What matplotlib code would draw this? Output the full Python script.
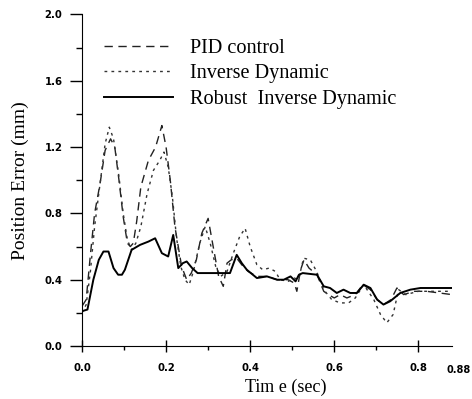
import matplotlib
matplotlib.use("Agg")
import matplotlib.pyplot as plt
from matplotlib.ticker import MultipleLocator, FixedLocator

# --- data ---
t_robust = [0.000, 0.013, 0.027, 0.040, 0.051, 0.063, 0.075, 0.086, 0.095, 0.102,
            0.118, 0.138, 0.158, 0.174, 0.190, 0.205, 0.217, 0.229, 0.240, 0.249,
            0.262, 0.275, 0.297, 0.320, 0.352, 0.368, 0.380, 0.392, 0.416, 0.440,
            0.464, 0.480, 0.496, 0.508, 0.516, 0.525, 0.559, 0.575, 0.590, 0.606,
            0.622, 0.638, 0.654, 0.670, 0.686, 0.702, 0.717, 0.733, 0.757, 0.781,
            0.805, 0.840, 0.880]
e_robust = [0.21, 0.22, 0.40, 0.52, 0.57, 0.57, 0.47, 0.43, 0.43, 0.46,
            0.58, 0.61, 0.63, 0.65, 0.56, 0.54, 0.67, 0.47, 0.50, 0.51,
            0.47, 0.44, 0.44, 0.44, 0.44, 0.55, 0.50, 0.46, 0.41, 0.42,
            0.40, 0.40, 0.42, 0.39, 0.43, 0.44, 0.43, 0.36, 0.35, 0.32,
            0.34, 0.32, 0.32, 0.37, 0.35, 0.28, 0.25, 0.27, 0.32, 0.34,
            0.35, 0.35, 0.35]

t_pid = [0.000, 0.010, 0.020, 0.030, 0.043, 0.055, 0.068, 0.078, 0.088, 0.098,
         0.108, 0.115, 0.122, 0.130, 0.140, 0.158, 0.175, 0.190, 0.200, 0.210,
         0.221, 0.237, 0.249, 0.260, 0.272, 0.285, 0.300, 0.312, 0.325, 0.336,
         0.345, 0.355, 0.368, 0.380, 0.395, 0.416, 0.440, 0.464, 0.490, 0.505,
         0.511, 0.520, 0.528, 0.540, 0.559, 0.575, 0.586, 0.600, 0.614, 0.630,
         0.650, 0.668, 0.686, 0.702, 0.717, 0.735, 0.749, 0.765, 0.790, 0.820,
         0.850, 0.880]
e_pid = [0.24, 0.28, 0.55, 0.80, 0.98, 1.18, 1.25, 1.20, 1.00, 0.78,
         0.62, 0.60, 0.62, 0.75, 0.96, 1.12, 1.20, 1.33, 1.20, 1.00,
         0.72, 0.48, 0.40, 0.44, 0.52, 0.68, 0.77, 0.60, 0.42, 0.36,
         0.50, 0.52, 0.53, 0.49, 0.45, 0.42, 0.42, 0.40, 0.40, 0.38,
         0.33, 0.46, 0.52, 0.47, 0.43, 0.33, 0.31, 0.29, 0.31, 0.29,
         0.31, 0.37, 0.34, 0.28, 0.25, 0.28, 0.35, 0.31, 0.33, 0.33,
         0.32, 0.31]

t_inv = [0.000, 0.010, 0.020, 0.030, 0.043, 0.055, 0.065, 0.075, 0.088, 0.098,
         0.108, 0.118, 0.128, 0.140, 0.155, 0.170, 0.185, 0.195, 0.205, 0.215,
         0.225, 0.235, 0.245, 0.255, 0.265, 0.280, 0.293, 0.305, 0.318, 0.330,
         0.345, 0.360, 0.375, 0.388, 0.400, 0.416, 0.430, 0.445, 0.460, 0.471,
         0.490, 0.505, 0.515, 0.527, 0.543, 0.558, 0.575, 0.594, 0.614, 0.634,
         0.650, 0.670, 0.694, 0.710, 0.725, 0.740, 0.753, 0.770, 0.800, 0.840,
         0.880]
e_inv = [0.20, 0.25, 0.45, 0.72, 0.98, 1.22, 1.32, 1.25, 1.02, 0.80,
         0.64, 0.58, 0.62, 0.72, 0.92, 1.06, 1.12, 1.17, 1.08, 0.90,
         0.65, 0.48, 0.40, 0.37, 0.45, 0.62, 0.72, 0.62, 0.48, 0.42,
         0.45, 0.56, 0.66, 0.71, 0.60, 0.49, 0.46, 0.47, 0.45, 0.40,
         0.39, 0.41, 0.40, 0.53, 0.52, 0.45, 0.34, 0.28, 0.26, 0.26,
         0.29, 0.37, 0.28, 0.19, 0.14, 0.19, 0.34, 0.31, 0.33, 0.33,
         0.33]

labels = ["PID control", "Inverse Dynamic", "Robust  Inverse Dynamic"]
x_ticks = [0.0, 0.2, 0.4, 0.6, 0.8]
x_end = 0.88

serif = "Liberation Serif"

fig = plt.figure(figsize=(4.72, 3.99), dpi=100)
ax = fig.add_axes([0.1737, 0.1328, 0.7839, 0.8309])

ax.plot(t_pid, e_pid, color="#222222", lw=1.0, dashes=(6, 4), label=labels[0])
ax.plot(t_inv, e_inv, color="#333333", lw=1.0, dashes=(2, 3), label=labels[1])
ax.plot(t_robust, e_robust, color="black", lw=1.4, label=labels[2])

ax.set_xlim(0, x_end)
ax.set_ylim(0, 2.0)

for s in ["top", "right"]:
    ax.spines[s].set_visible(False)

ax.yaxis.set_major_locator(MultipleLocator(0.4))
ax.yaxis.set_minor_locator(MultipleLocator(0.2))
ax.xaxis.set_major_locator(FixedLocator(x_ticks))
ax.xaxis.set_minor_locator(FixedLocator([0.1, 0.3, 0.5, 0.7]))
ax.set_yticklabels([f"{v:.1f}" for v in ax.get_yticks()])
ax.set_xticklabels([f"{v:.1f}" for v in x_ticks])

ax.tick_params(axis="y", which="major", direction="out", length=9, width=1, pad=5,
               labelsize=7.3)
ax.tick_params(axis="y", which="minor", direction="out", length=4.5, width=1)
ax.tick_params(axis="x", which="major", direction="inout", length=9, width=1, pad=8,
               labelsize=7.3)
ax.tick_params(axis="x", which="minor", direction="out", length=3, width=1)
for lab in ax.get_xticklabels() + ax.get_yticklabels():
    lab.set_fontweight("bold")

# end-of-axis label
ax.annotate(f"{x_end:.2f}", xy=(x_end, 0), xycoords=("data", "axes fraction"),
            xytext=(4.5, -14), textcoords="offset points", ha="center", va="top",
            fontsize=7, fontweight="bold")

ax.set_ylabel("Position Error (mm)", family=serif, fontsize=14, labelpad=11)
ax.set_xlabel("Tim e (sec)", family=serif, fontsize=13, labelpad=4, x=0.55)

leg = ax.legend(loc="upper left", bbox_to_anchor=(0.06, 0.926), frameon=False,
                prop={"family": serif, "size": 14.6}, handlelength=3.4,
                handletextpad=0.85, labelspacing=0.3, borderpad=0, borderaxespad=0)

fig.savefig("out.png", dpi=100)
